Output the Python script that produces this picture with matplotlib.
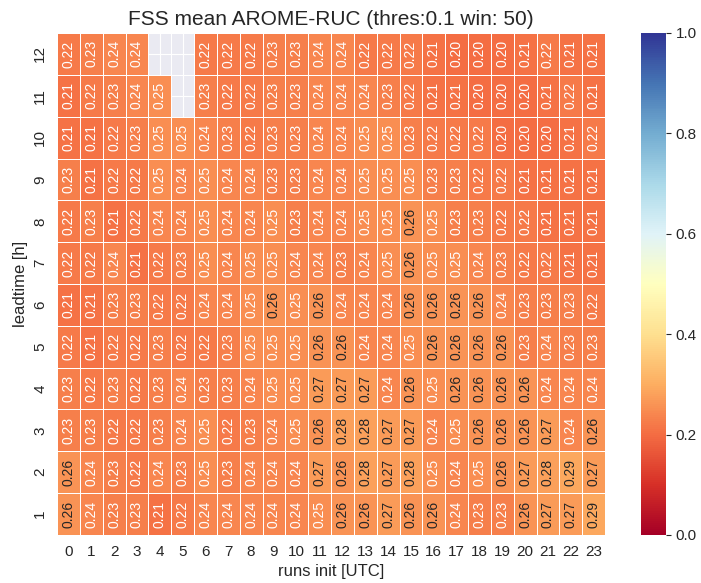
import numpy as np
import pandas as pd
import matplotlib
matplotlib.use("Agg")
import matplotlib.pyplot as plt
import seaborn as sns

# FSS values per leadtime [h], runs init 0..23 UTC (nan = missing)
nan = np.nan
runs = list(range(24))
fss_lt12 = [0.22, 0.23, 0.24, 0.24, nan, nan, 0.22, 0.22, 0.22, 0.23, 0.23, 0.24,
            0.24, 0.22, 0.22, 0.22, 0.21, 0.20, 0.20, 0.20, 0.21, 0.22, 0.21, 0.21]
fss_lt11 = [0.21, 0.22, 0.23, 0.24, 0.25, nan, 0.23, 0.22, 0.22, 0.23, 0.23, 0.24,
            0.24, 0.24, 0.23, 0.22, 0.21, 0.21, 0.20, 0.20, 0.20, 0.21, 0.22, 0.21]
fss_lt10 = [0.21, 0.21, 0.22, 0.23, 0.25, 0.25, 0.24, 0.23, 0.22, 0.23, 0.23, 0.24,
            0.24, 0.25, 0.25, 0.23, 0.22, 0.22, 0.22, 0.20, 0.20, 0.20, 0.21, 0.22]
fss_lt09 = [0.23, 0.21, 0.22, 0.22, 0.25, 0.24, 0.25, 0.24, 0.24, 0.23, 0.23, 0.24,
            0.24, 0.25, 0.25, 0.25, 0.23, 0.23, 0.22, 0.22, 0.21, 0.21, 0.21, 0.21]
fss_lt08 = [0.22, 0.23, 0.21, 0.22, 0.24, 0.24, 0.25, 0.24, 0.24, 0.25, 0.23, 0.24,
            0.24, 0.25, 0.25, 0.26, 0.25, 0.23, 0.23, 0.22, 0.22, 0.21, 0.21, 0.21]
fss_lt07 = [0.22, 0.22, 0.24, 0.21, 0.22, 0.23, 0.25, 0.24, 0.25, 0.25, 0.24, 0.24,
            0.23, 0.24, 0.25, 0.26, 0.25, 0.25, 0.24, 0.23, 0.22, 0.22, 0.21, 0.21]
fss_lt06 = [0.21, 0.21, 0.23, 0.23, 0.22, 0.22, 0.24, 0.24, 0.25, 0.26, 0.25, 0.26,
            0.24, 0.24, 0.24, 0.26, 0.26, 0.26, 0.26, 0.24, 0.23, 0.23, 0.23, 0.22]
fss_lt05 = [0.22, 0.21, 0.22, 0.22, 0.23, 0.22, 0.22, 0.23, 0.25, 0.25, 0.25, 0.26,
            0.26, 0.24, 0.24, 0.25, 0.26, 0.26, 0.26, 0.26, 0.23, 0.24, 0.23, 0.23]
fss_lt04 = [0.23, 0.22, 0.23, 0.22, 0.23, 0.24, 0.23, 0.23, 0.24, 0.25, 0.25, 0.27,
            0.27, 0.27, 0.24, 0.26, 0.25, 0.26, 0.26, 0.26, 0.26, 0.24, 0.24, 0.24]
fss_lt03 = [0.23, 0.23, 0.22, 0.22, 0.23, 0.24, 0.25, 0.22, 0.23, 0.24, 0.25, 0.26,
            0.28, 0.28, 0.27, 0.27, 0.24, 0.25, 0.26, 0.26, 0.26, 0.27, 0.24, 0.26]
fss_lt02 = [0.26, 0.24, 0.23, 0.22, 0.24, 0.23, 0.25, 0.23, 0.24, 0.24, 0.24, 0.27,
            0.26, 0.28, 0.27, 0.28, 0.25, 0.24, 0.25, 0.26, 0.27, 0.28, 0.29, 0.27]
fss_lt01 = [0.26, 0.24, 0.23, 0.23, 0.21, 0.22, 0.24, 0.24, 0.24, 0.24, 0.24, 0.25,
            0.26, 0.26, 0.27, 0.26, 0.26, 0.24, 0.23, 0.23, 0.26, 0.27, 0.27, 0.29]

leadtimes = [12, 11, 10, 9, 8, 7, 6, 5, 4, 3, 2, 1]
rows = [fss_lt12, fss_lt11, fss_lt10, fss_lt09, fss_lt08, fss_lt07,
        fss_lt06, fss_lt05, fss_lt04, fss_lt03, fss_lt02, fss_lt01]
df = pd.DataFrame(rows, index=leadtimes, columns=runs)

sns.set_style("darkgrid")
plt.rcParams['font.family'] = ['Liberation Sans', 'DejaVu Sans']

fig = plt.figure(figsize=(7.01, 5.83), dpi=100)
ax = fig.add_axes([57 / 701, 48 / 583, 548 / 701, 502 / 583])
cax = fig.add_axes([641 / 701, 48 / 583, 25 / 701, 502 / 583])

sns.heatmap(df, ax=ax, cbar_ax=cax, cmap="RdYlBu", vmin=0, vmax=1,
            annot=True, fmt=".2f", linewidths=0.5, linecolor="white",
            annot_kws={"rotation": 90, "fontsize": 10})

ax.set_title("FSS mean AROME-RUC (thres:0.1 win: 50)", fontsize=15)
ax.set_xlabel("runs init [UTC]", fontsize=12)
ax.set_ylabel("leadtime [h]", fontsize=12)
ax.tick_params(axis="x", labelsize=11, rotation=0)
ax.tick_params(axis="y", labelsize=11)
plt.setp(ax.get_yticklabels(), rotation=90, va="center")
cax.tick_params(labelsize=11)

fig.savefig("out.png", dpi=100)
